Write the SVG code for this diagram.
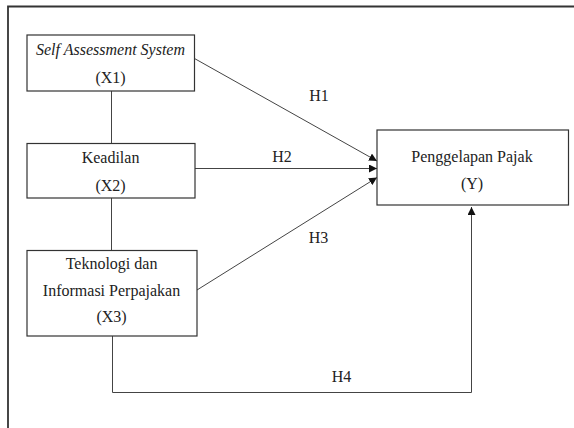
<svg xmlns="http://www.w3.org/2000/svg" width="574" height="428" viewBox="0 0 574 428" font-family="'Liberation Serif', 'Times New Roman', 'DejaVu Serif', serif">
<style>
text{font-family:'Liberation Serif','Times New Roman','DejaVu Serif',serif;font-size:16px;fill:#222;text-anchor:middle}
.box{fill:#fff;stroke:#333;stroke-width:1.2}
.ln{fill:none;stroke:#444;stroke-width:1}
.it{font-style:italic}
</style>
<defs>
<marker id="ah" viewBox="0 0 10 10" refX="10" refY="5" markerWidth="8" markerHeight="8" markerUnits="userSpaceOnUse" orient="auto">
<path d="M0,0 L10,5 L0,10 z" fill="#111"/>
</marker>
</defs>
<rect width="574" height="428" fill="#fff"/>
<path d="M8,428 V6.5 H574" fill="none" stroke="#333" stroke-width="1.8"/>
<g id="connectors">
<line class="ln" x1="111.5" y1="91" x2="111.5" y2="143.5"/>
<line class="ln" x1="111.5" y1="198" x2="111.5" y2="250.5"/>
<line class="ln" x1="194.5" y1="58.5" x2="377" y2="161" marker-end="url(#ah)"/>
<line class="ln" x1="195" y1="168.5" x2="377" y2="168.5" marker-end="url(#ah)"/>
<line class="ln" x1="197" y1="290" x2="377" y2="177.5" marker-end="url(#ah)"/>
<polyline class="ln" points="112.5,336 112.5,392.5 471.5,392.5 471.5,207" marker-end="url(#ah)"/>
<text x="319" y="100.5">H1</text>
<text x="282" y="162">H2</text>
<text x="318.5" y="243">H3</text>
<text x="341.5" y="381.5">H4</text>
</g>
<g id="x1">
<rect class="box" x="27" y="35" width="167.5" height="56"/>
<text class="it" x="110.5" y="55">Self Assessment System</text>
<text x="110.5" y="83">(X1)</text>
</g>
<g id="x2">
<rect class="box" x="27" y="143.5" width="168" height="54.5"/>
<text x="110.5" y="163">Keadilan</text>
<text x="110.5" y="191">(X2)</text>
</g>
<g id="x3">
<rect class="box" x="27" y="250.5" width="170" height="85.5"/>
<text x="111.5" y="269">Teknologi dan</text>
<text x="111.5" y="296">Informasi Perpajakan</text>
<text x="111.5" y="322">(X3)</text>
</g>
<g id="y">
<rect class="box" x="377" y="130" width="191.5" height="75"/>
<text x="472" y="161.5">Penggelapan Pajak</text>
<text x="472" y="189">(Y)</text>
</g>
</svg>
